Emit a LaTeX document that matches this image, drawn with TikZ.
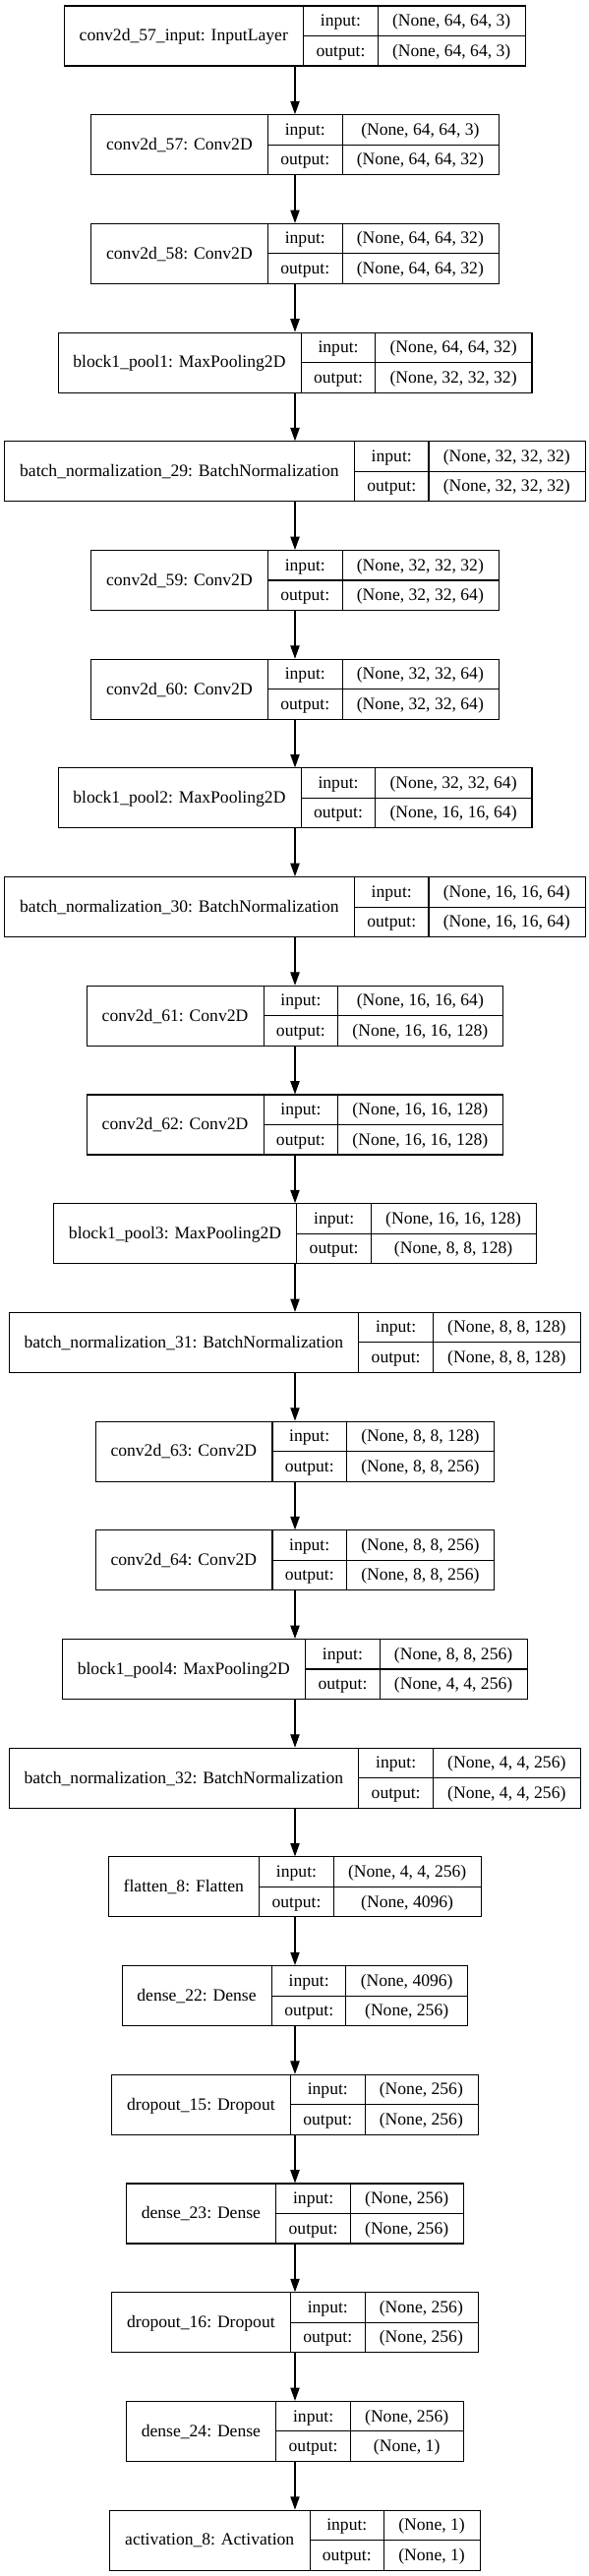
\documentclass[tikz,border=0pt]{standalone}
\usepackage{fontspec}
\setmainfont{Liberation Serif}
\usetikzlibrary{positioning}
\usetikzlibrary{arrows.meta}

\newlength\labelwd
\newlength\shapewd
\newlength\tmpwd
\newlength\boxwd
\newsavebox\measurebox
\newcommand{\layerfont}{\fontsize{13.2}{15}\selectfont}
\newcommand{\measureText}[2]{%
  \pgfinterruptpicture\normalfont\layerfont
  \global\setbox\measurebox=\hbox{#2}%
  \endpgfinterruptpicture
  \setlength{#1}{\wd\measurebox}}

% one layer: name, placement, label, input shape, output shape
\newcommand{\kerasLayer}[5]{%
  \measureText{\labelwd}{#3}%
  \measureText{\shapewd}{#4}%
  \measureText{\tmpwd}{#5}%
  \ifdim\tmpwd>\shapewd \setlength{\shapewd}{\tmpwd}\fi
  \addtolength{\labelwd}{23.8pt}%
  \addtolength{\shapewd}{22.2pt}%
  \setlength{\boxwd}{\labelwd}%
  \addtolength{\boxwd}{56.6pt}%
  \addtolength{\boxwd}{\shapewd}%
  \node[layerbox, minimum width=\boxwd, #2] (#1) {};
  \node at ([xshift=0.5\labelwd]#1.west) {#3};
  \draw[cell] ([xshift=\labelwd]#1.north west) -- ([xshift=\labelwd]#1.south west);
  \draw[cell] ([xshift=\labelwd+56.6pt]#1.north west) -- ([xshift=\labelwd+56.6pt]#1.south west);
  \draw[cell] ([xshift=\labelwd]#1.west) -- (#1.east);
  \node at ([xshift=\labelwd+28.3pt, yshift=11.44pt]#1.west) {input:};
  \node at ([xshift=\labelwd+28.3pt, yshift=-11.44pt]#1.west) {output:};
  \node at ([xshift=\labelwd+56.6pt+0.5\shapewd, yshift=11.44pt]#1.west) {#4};
  \node at ([xshift=\labelwd+56.6pt+0.5\shapewd, yshift=-11.44pt]#1.west) {#5};
}

\begin{document}
\begin{tikzpicture}[x=0.75pt, y=-0.75pt, on grid, node distance=83.025pt,
  every node/.style={font=\layerfont, inner sep=0pt, text height=9.8pt, text depth=1.8pt},
  layerbox/.style={draw, line width=0.8pt, minimum height=45.75pt},
  cell/.style={line width=0.8pt},
  flow/.style={line width=0.8pt, -{Triangle[length=10pt, width=7pt]}}]

\useasboundingbox (0,0) rectangle (599,2619);

% Convolution blocks
\kerasLayer{inputL}{at={(300,36.5)}}{conv2d\_57\_input: InputLayer}{(None, 64, 64, 3)}{(None, 64, 64, 3)}
\kerasLayer{conv57}{below=of inputL}{conv2d\_57: Conv2D}{(None, 64, 64, 3)}{(None, 64, 64, 32)}
\kerasLayer{conv58}{below=of conv57}{conv2d\_58: Conv2D}{(None, 64, 64, 32)}{(None, 64, 64, 32)}
\kerasLayer{pool1}{below=of conv58}{block1\_pool1: MaxPooling2D}{(None, 64, 64, 32)}{(None, 32, 32, 32)}
\kerasLayer{bn29}{below=of pool1}{batch\_normalization\_29: BatchNormalization}{(None, 32, 32, 32)}{(None, 32, 32, 32)}
\kerasLayer{conv59}{below=of bn29}{conv2d\_59: Conv2D}{(None, 32, 32, 32)}{(None, 32, 32, 64)}
\kerasLayer{conv60}{below=of conv59}{conv2d\_60: Conv2D}{(None, 32, 32, 64)}{(None, 32, 32, 64)}
\kerasLayer{pool2}{below=of conv60}{block1\_pool2: MaxPooling2D}{(None, 32, 32, 64)}{(None, 16, 16, 64)}
\kerasLayer{bn30}{below=of pool2}{batch\_normalization\_30: BatchNormalization}{(None, 16, 16, 64)}{(None, 16, 16, 64)}
\kerasLayer{conv61}{below=of bn30}{conv2d\_61: Conv2D}{(None, 16, 16, 64)}{(None, 16, 16, 128)}
\kerasLayer{conv62}{below=of conv61}{conv2d\_62: Conv2D}{(None, 16, 16, 128)}{(None, 16, 16, 128)}
\kerasLayer{pool3}{below=of conv62}{block1\_pool3: MaxPooling2D}{(None, 16, 16, 128)}{(None, 8, 8, 128)}
\kerasLayer{bn31}{below=of pool3}{batch\_normalization\_31: BatchNormalization}{(None, 8, 8, 128)}{(None, 8, 8, 128)}
\kerasLayer{conv63}{below=of bn31}{conv2d\_63: Conv2D}{(None, 8, 8, 128)}{(None, 8, 8, 256)}
\kerasLayer{conv64}{below=of conv63}{conv2d\_64: Conv2D}{(None, 8, 8, 256)}{(None, 8, 8, 256)}
\kerasLayer{pool4}{below=of conv64}{block1\_pool4: MaxPooling2D}{(None, 8, 8, 256)}{(None, 4, 4, 256)}
\kerasLayer{bn32}{below=of pool4}{batch\_normalization\_32: BatchNormalization}{(None, 4, 4, 256)}{(None, 4, 4, 256)}

% Dense head
\kerasLayer{flatten8}{below=of bn32}{flatten\_8: Flatten}{(None, 4, 4, 256)}{(None, 4096)}
\kerasLayer{dense22}{below=of flatten8}{dense\_22: Dense}{(None, 4096)}{(None, 256)}
\kerasLayer{drop15}{below=of dense22}{dropout\_15: Dropout}{(None, 256)}{(None, 256)}
\kerasLayer{dense23}{below=of drop15}{dense\_23: Dense}{(None, 256)}{(None, 256)}
\kerasLayer{drop16}{below=of dense23}{dropout\_16: Dropout}{(None, 256)}{(None, 256)}
\kerasLayer{dense24}{below=of drop16}{dense\_24: Dense}{(None, 256)}{(None, 1)}
\kerasLayer{act8}{below=of dense24}{activation\_8: Activation}{(None, 1)}{(None, 1)}

% Connections
\foreach \a/\b in {inputL/conv57, conv57/conv58, conv58/pool1, pool1/bn29, bn29/conv59,
    conv59/conv60, conv60/pool2, pool2/bn30, bn30/conv61, conv61/conv62, conv62/pool3,
    pool3/bn31, bn31/conv63, conv63/conv64, conv64/pool4, pool4/bn32, bn32/flatten8,
    flatten8/dense22, dense22/drop15, drop15/dense23, dense23/drop16, drop16/dense24,
    dense24/act8}
  \draw[flow] (\a) -- (\b);

\end{tikzpicture}
\end{document}
